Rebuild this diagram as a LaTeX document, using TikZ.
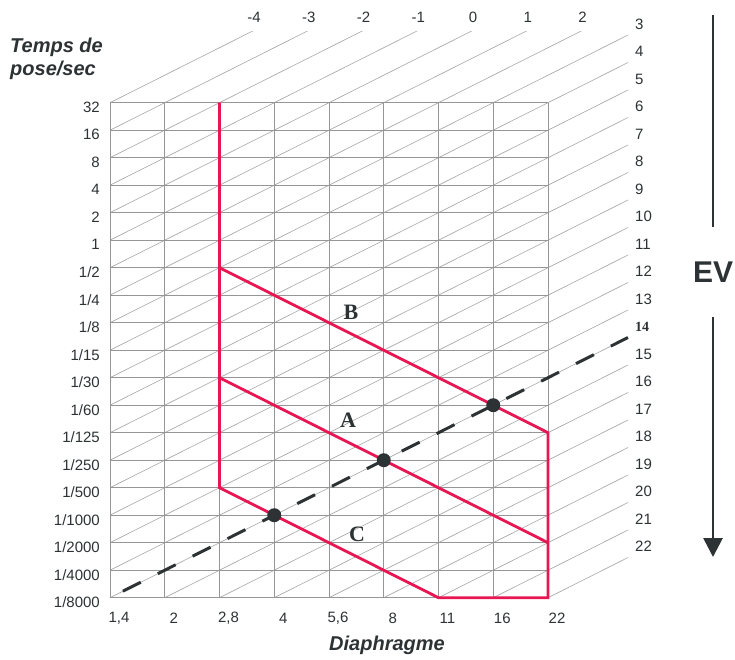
\documentclass[tikz,border=0pt]{standalone}
\usepackage{fontspec}
\setmainfont{Liberation Sans}
\newfontfamily\serifb{Liberation Serif}
\usetikzlibrary{arrows.meta}
\definecolor{gridc}{RGB}{150,150,150}
\definecolor{diagc}{RGB}{165,165,165}
\definecolor{redc}{RGB}{232,22,82}
\definecolor{ink}{RGB}{45,50,52}
\begin{document}
\begin{tikzpicture}[x=1pt,y=-1pt,
  gridl/.style={draw=gridc, line width=0.8pt},
  diagl/.style={draw=diagc, line width=0.6pt},
  redl/.style={draw=redc, line width=2.8pt, line join=miter},
  dashl/.style={draw=ink, line width=3pt, dash pattern=on 20pt off 19pt, dash phase=24.5pt},
  evline/.style={draw=ink, line width=2.8pt},
  num/.style={font=\fontsize{15}{15}\selectfont, text=ink, inner sep=0pt},
  lett/.style={font=\serifb\bfseries\fontsize{22}{22}\selectfont, text=ink, inner sep=0pt},
  ttl/.style={font=\bfseries\itshape\fontsize{20}{23}\selectfont, text=ink, inner sep=0pt, align=left}]
\useasboundingbox (0,0) rectangle (735,660);
\fill[white] (0,0) rectangle (735,660);
% grid in chart units
\begin{scope}[shift={(110,102.7)},x=54.75pt,y=-27.5pt]
  \begin{scope}
    \clip (-0.05,-2.607) rectangle (9.461,18.05);
    \foreach \e in {-4,...,22}{
      \pgfmathtruncatemacro\sx{max(0,\e-14)}
      \pgfmathtruncatemacro\sy{min(18,\e+4)}
      \draw[diagl] (\sx,\sy) -- ++(12,-12);
    }
  \end{scope}
  \foreach \j in {0,...,18} \draw[gridl] (0,\j) -- (8,\j);
  \foreach \i in {0,...,8} \draw[gridl] (\i,0) -- (\i,18);
  % red zones
  \coordinate (r1) at (2,0);
  \coordinate (r2) at (2,14);
  \coordinate (r3) at (6,18);
  \coordinate (r4) at (8,18);
  \coordinate (r5) at (8,12);
  \coordinate (r6) at (2,6);
  \coordinate (a1) at (2,10);
  \coordinate (a2) at (8,16);
  \draw[redl] (r1) -- (r2) -- (r3) -- (r4) -- (r5) -- (r6);
  \draw[redl] (a1) -- (a2);
  % EV 14 dashed
  \coordinate (d0) at (0,18);
  \coordinate (d1) at (9.461,8.539);
  \draw[dashl] (d0) -- (d1);
  \fill[ink] (3,15) circle (7pt);
  \fill[ink] (5,13) circle (7pt);
  \fill[ink] (7,11) circle (7pt);
\end{scope}
% zone letters
\node[lett] (lB) at (351,312) {B};
\node[lett] (lA) at (348,420) {A};
\node[lett] (lC) at (357,534) {C};
% left labels
\foreach \t [count=\k from 0] in {32,16,8,4,2,1,1/2,1/4,1/8,1/15,1/30,1/60,1/125,1/250,1/500,1/1000,1/2000,1/4000,1/8000}
  \node[num, anchor=east] (L\k) at (100,{102.7+27.5*\k+4.5}) {\t};
% bottom labels
\foreach \t [count=\k from 0] in {{1,4},2,{2,8},4,{5,6},8,11,16,22}
  \node[num] (B\k) at ({119+54.75*\k},618) {\t};
% top labels
\foreach \t [count=\k from 0] in {-4,-3,-2,-1,0,1,2}
  \node[num] (T\k) at ({254+54.75*\k},17) {\t};
% right labels
\foreach \e in {3,...,13,15,16,17,18,19,20,21,22}
  \node[num, anchor=west] (R\e) at (635,{24+27.5*(\e-3)}) {\e};
\node[num, anchor=west, font=\serifb\bfseries\fontsize{14}{14}\selectfont] (R14) at (635,{24+27.5*11}) {14};
% titles
\node[ttl, anchor=west] (tt) at (10,59) {Temps de\\pose/sec};
\node[ttl] (dia) at (387,645) {Diaphragme};
% EV arrow
\node[font=\bfseries\fontsize{30}{30}\selectfont, text=ink, inner sep=0pt] (ev) at (713,272) {EV};
\coordinate (e1) at (713,15);
\coordinate (e2) at (713,227);
\coordinate (e3) at (713,317);
\coordinate (e4) at (713,557);
\draw[evline] (e1) -- (e2);
\draw[evline, -{Triangle[width=19pt,length=19pt]}] (e3) -- (e4);
\end{tikzpicture}
\end{document}
